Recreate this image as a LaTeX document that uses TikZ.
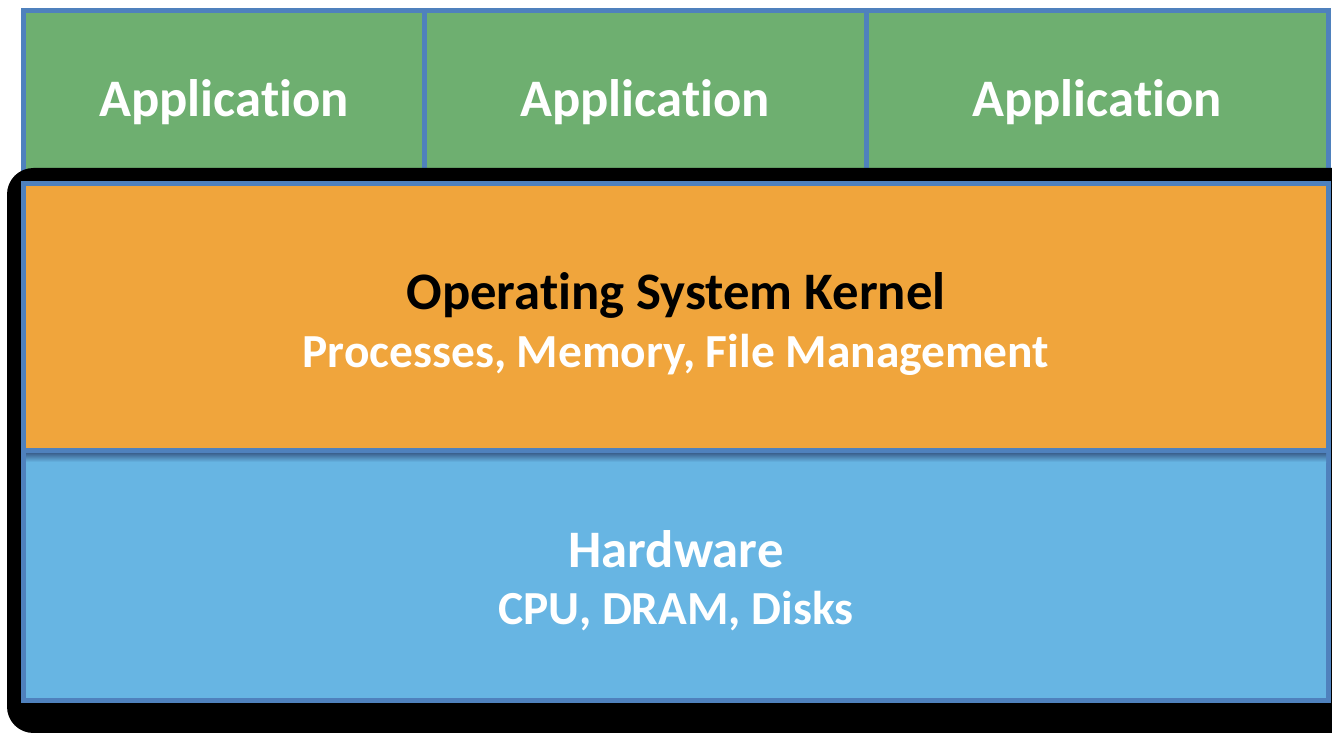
\documentclass[tikz,border=0pt]{standalone}
\usepackage{fontspec}
\setmainfont{Carlito}[Ligatures={NoCommon}]
\usetikzlibrary{positioning}
\definecolor{appgreen}{RGB}{110,175,112}
\definecolor{edgeblue}{RGB}{79,129,189}
\definecolor{kernelorange}{RGB}{240,165,60}
\definecolor{hwblue}{RGB}{103,181,227}
\tikzset{
  layer box/.style={draw=edgeblue,line width=2.85pt},
  title text/.style={font=\fontsize{30}{36}\selectfont\bfseries,anchor=base,inner sep=0pt},
  sub text/.style={font=\fontsize{27}{32}\selectfont\bfseries,text=white,anchor=base,inner sep=0pt}
}

\begin{document}
\begin{tikzpicture}[x=0.02cm,y=-0.02cm]
  \useasboundingbox (0,0) rectangle (1332,733);
  \clip (0,0) rectangle (1332,733);
  % applications on top
  \foreach \xa/\xb in {23.5/424.5,424.5/866,866/1328.5}
    \filldraw[layer box,fill=appgreen] (\xa,10.5) rectangle (\xb,185);
  % black frame round kernel and hardware
  \fill[rounded corners=15] (7,168) rectangle (1360,733);
  \filldraw[layer box,fill=kernelorange] (23.5,183.5) rectangle (1328.5,450.5);
  \filldraw[layer box,fill=hwblue] (23.5,450.5) rectangle (1328.5,700.5);
  \shade[top color=edgeblue!75!black,bottom color=hwblue] (26,453) rectangle (1326,462);

  \node[title text,text=white] (app1) at (224,117) {Application};
  \node[title text,text=white] (app2) at (645,117) {Application};
  \node[title text,text=white] (app3) at (1097,117) {Application};
  \node[title text] (kernel) at (676,309) {Operating System Kernel};
  \node[sub text] (kernelsub) at (676,367) {Processes, Memory, File Management};
  \node[title text,text=white] (hw) at (676,567) {Hardware};
  \node[sub text] (hwsub) at (676,624) {CPU, DRAM, Disks};
\end{tikzpicture}
\end{document}
